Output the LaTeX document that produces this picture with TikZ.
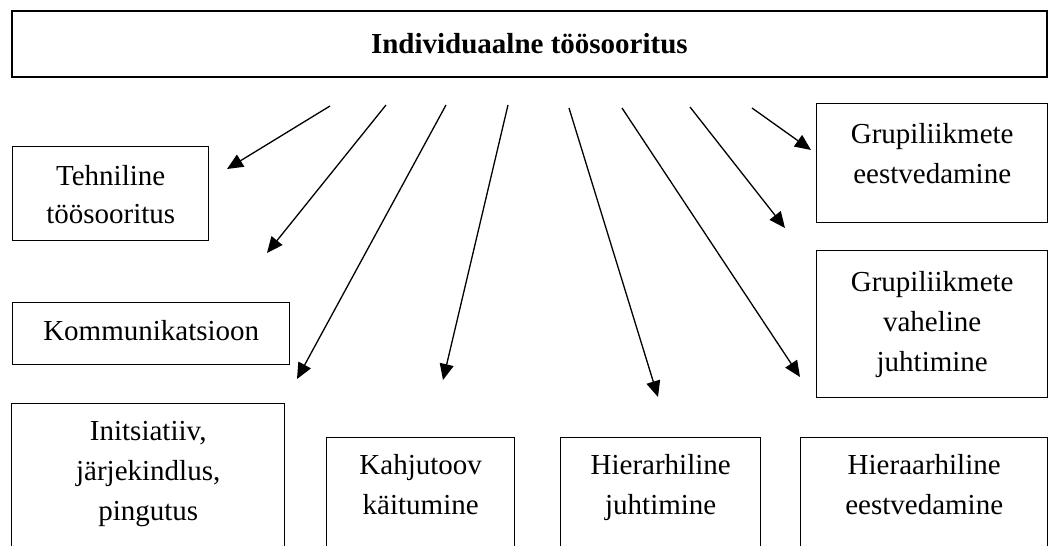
\documentclass[tikz,border=0pt]{standalone}
\usepackage{fontspec}
\setmainfont{Liberation Serif}
\usetikzlibrary{arrows.meta,positioning}

\tikzset{
  box/.style={draw, line width=1.4pt, rectangle, inner sep=0pt, anchor=north west},
  txt/.style={align=center, inner sep=0pt, font=\fontsize{29}{40}\selectfont},
  arr/.style={line width=1.3pt, -{Triangle[length=16pt,width=14pt]}}
}

\begin{document}
\begin{tikzpicture}[x=1pt, y=-1pt]

\clip (0,0) rectangle (1050,546);

% top box
\node[box, line width=1.8pt, minimum width=1035pt, minimum height=66pt, font=\fontsize{29}{40}\selectfont\bfseries] (top) at (11,10) {Individuaalne töösooritus};

% left column
\node[box, minimum width=196pt, minimum height=94pt] (tech) at (12,146) {};
\node[txt, font=\fontsize{29}{38}\selectfont, below=19pt of tech.north] (techtxt) {Tehniline\\töösooritus};
\node[box, minimum width=277pt, minimum height=62pt] (komm) at (12,302) {};
\node[txt, below=18pt of komm.north] (kommtxt) {Kommunikatsioon};
\node[box, minimum width=273pt, minimum height=142.5pt] (init) at (11,403) {};
\node[txt, below=18pt of init.north] (inittxt) {Initsiatiiv,\\järjekindlus,\\pingutus};

% bottom row
\node[box, minimum width=188pt, minimum height=130pt] (kahju) at (326,437) {};
\node[txt, below=17pt of kahju.north] (kahjutxt) {Kahjutoov\\käitumine};
\node[box, minimum width=200pt, minimum height=130pt] (hier) at (560,437) {};
\node[txt, below=17pt of hier.north] (hiertxt) {Hierarhiline\\juhtimine};
\node[box, minimum width=247pt, minimum height=130pt] (eest) at (800,437) {};
\node[txt, below=17pt of eest.north] (eesttxt) {Hieraarhiline\\eestvedamine};

% right column
\node[box, minimum width=231pt, minimum height=119pt] (grup) at (816,103) {};
\node[txt, below=20pt of grup.north] (gruptxt) {Grupiliikmete\\eestvedamine};
\node[box, minimum width=231pt, minimum height=147pt] (vahe) at (816,250) {};
\node[txt, below=21pt of vahe.north] (vahetxt) {Grupiliikmete\\vaheline\\juhtimine};

% arrows
\coordinate (s1) at (330,106); \coordinate (e1) at (227,169);
\coordinate (s2) at (386,105); \coordinate (e2) at (267,253);
\coordinate (s3) at (446,105); \coordinate (e3) at (297,379);
\coordinate (s4) at (508,105); \coordinate (e4) at (443,380);
\coordinate (s5) at (569,108); \coordinate (e5) at (658,397);
\coordinate (s6) at (622,108); \coordinate (e6) at (800,377);
\coordinate (s7) at (690,107); \coordinate (e7) at (785,228);
\coordinate (s8) at (752,108); \coordinate (e8) at (811,150);

\draw[arr] (s1) -- (e1);
\draw[arr] (s2) -- (e2);
\draw[arr] (s3) -- (e3);
\draw[arr] (s4) -- (e4);
\draw[arr] (s5) -- (e5);
\draw[arr] (s6) -- (e6);
\draw[arr] (s7) -- (e7);
\draw[arr] (s8) -- (e8);

\end{tikzpicture}
\end{document}
